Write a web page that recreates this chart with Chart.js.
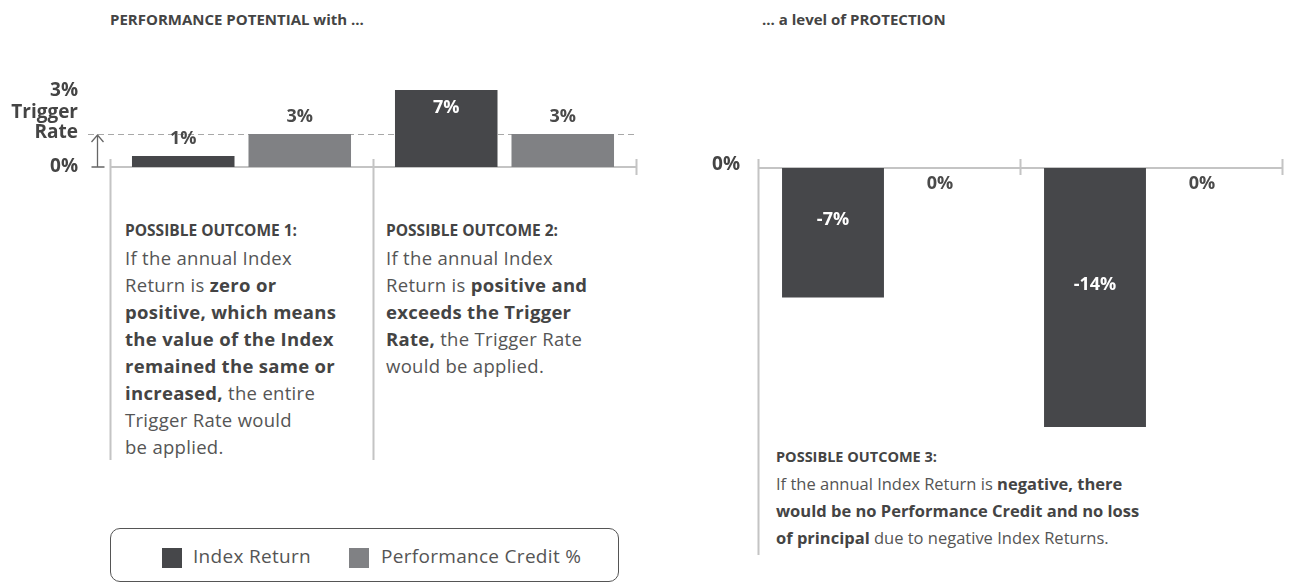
<!DOCTYPE html>
<html>
<head>
<meta charset="utf-8">
<script src="https://cdn.jsdelivr.net/npm/chart.js@4.4.0/dist/chart.umd.min.js"></script>
<style>
  body { margin: 0; background: #fff; font-family: "Open Sans", sans-serif; color: #4a4a4a; }
  #page { position: relative; width: 1289px; height: 582px; overflow: hidden; }
  canvas { position: absolute; left: 0; top: 0; }
  .title { position: absolute; top: 9px; font-size: 15px; font-weight: bold; color: #444; }
  .note { position: absolute; font-size: 16.5px; line-height: 27px; color: #555; white-space: nowrap; }
  .note b { color: #444; }
  .note .head { font-size: 14.5px; font-weight: bold; color: #444; letter-spacing: 0; }
  .note.big { font-size: 18.5px; letter-spacing: 0.3px; }
  .note.big .head { font-size: 15.5px; }
  .legend { position: absolute; left: 110px; top: 528px; width: 509px; height: 54px; box-sizing: border-box;
            border: 1px solid #555; border-radius: 10px; }
  .legend span { position: absolute; top: 14px; font-size: 19px; letter-spacing: 0.3px; color: #555; }
  .legend i { position: absolute; top: 19px; width: 20px; height: 20px; }
</style>
</head>
<body>
<div id="page">
  <div class="title" style="left:110px">PERFORMANCE POTENTIAL with ...</div>
  <div class="title" style="left:762px">... a level of PROTECTION</div>

  <div class="note big" style="left:125px; top:215px">
    <span class="head">POSSIBLE OUTCOME 1:</span><br>
    If the annual Index<br>
    Return is <b>zero or</b><br>
    <b>positive, which means</b><br>
    <b>the value of the Index</b><br>
    <b>remained the same or</b><br>
    <b>increased,</b> the entire<br>
    Trigger Rate would<br>
    be applied.
  </div>
  <div class="note big" style="left:386px; top:215px">
    <span class="head">POSSIBLE OUTCOME 2:</span><br>
    If the annual Index<br>
    Return is <b>positive and</b><br>
    <b>exceeds the Trigger</b><br>
    <b>Rate,</b> the Trigger Rate<br>
    would be applied.
  </div>
  <div class="note" style="left:776px; top:442px">
    <span class="head">POSSIBLE OUTCOME 3:</span><br>
    If the annual Index Return is <b>negative, there</b><br>
    <b>would be no Performance Credit and no loss</b><br>
    <b>of principal</b> due to negative Index Returns.
  </div>

  <div class="legend">
    <i style="left:51px; background:#46474a"></i><span style="left:82px">Index Return</span>
    <i style="left:238px; background:#808184"></i><span style="left:270px">Performance Credit %</span>
  </div>

  <canvas id="left" width="1289" height="582"></canvas>
  <canvas id="right" width="1289" height="582"></canvas>
</div>

<script>
// data
var categoriesLeft   = ['Outcome 1', 'Outcome 2'];
var indexReturnLeft  = [1, 7];
var perfCreditLeft   = [3, 3];
var categoriesRight  = ['Outcome 3a', 'Outcome 3b'];
var indexReturnRight = [-7, -14];
var perfCreditRight  = [0, 0];
var triggerRate      = 3;
var seriesNames      = ['Index Return', 'Performance Credit %'];

var DARK  = '#46474a';
var LIGHT = '#808184';
var AXIS  = '#c4c4c4';
var FONT  = '"Open Sans", sans-serif';

function pct(v) { return v + '%'; }

// axis line, ticks and separators for a panel
function drawAxis(ctx, chart, sepBottom, tickUp, tickDown, sepFrom) {
    var area = chart.chartArea;
    var y0 = chart.scales.y.getPixelForValue(0);
    var n = chart.data.labels.length;
    var w = (area.right - area.left) / n;
    ctx.save();
    ctx.strokeStyle = AXIS;
    ctx.lineWidth = 2;
    ctx.beginPath();
    ctx.moveTo(area.left, y0);
    ctx.lineTo(area.right, y0);
    for (var i = 0; i <= n; i++) {
        var x = Math.round(area.left + i * w) + 0.5;
        ctx.moveTo(x, y0 - tickUp);
        if (i < sepFrom) ctx.lineTo(x, sepBottom);
        else ctx.lineTo(x, y0 + tickDown);
    }
    ctx.stroke();
    ctx.restore();
}

var leftDecor = {
    id: 'leftDecor',
    beforeDatasetsDraw: function(chart) {
        var ctx = chart.ctx, area = chart.chartArea;
        var y0 = chart.scales.y.getPixelForValue(0);
        var yT = chart.scales.y.getPixelForValue(triggerRate);
        drawAxis(ctx, chart, 460, 8, 8, 2);

        // trigger rate dashed line
        ctx.save();
        ctx.strokeStyle = '#a8a8a8';
        ctx.lineWidth = 1;
        ctx.setLineDash([6, 4]);
        ctx.beginPath();
        ctx.moveTo(area.left - 22, yT + 0.5);
        ctx.lineTo(area.right, yT + 0.5);
        ctx.stroke();
        ctx.setLineDash([]);

        // arrow 0 -> trigger
        var ax = area.left - 13 + 0.5;
        ctx.strokeStyle = '#666';
        ctx.lineWidth = 1.3;
        ctx.beginPath();
        ctx.moveTo(ax, y0);
        ctx.lineTo(ax, yT + 1);
        ctx.moveTo(ax - 6, yT + 8);
        ctx.lineTo(ax, yT + 1);
        ctx.lineTo(ax + 6, yT + 8);
        ctx.moveTo(ax - 6, y0);
        ctx.lineTo(ax + 7, y0);
        ctx.stroke();

        // y labels
        ctx.fillStyle = '#444';
        ctx.font = 'bold 19px ' + FONT;
        ctx.textAlign = 'right';
        ctx.textBaseline = 'middle';
        ctx.fillText(pct(triggerRate), 78, yT - 43);
        ctx.fillText('Trigger', 78, yT - 21);
        ctx.fillText('Rate', 78, yT - 1);
        ctx.fillText(pct(0), 78, y0);
        ctx.restore();
    },
    afterDatasetsDraw: function(chart) {
        var ctx = chart.ctx;
        ctx.save();
        ctx.font = 'bold 18px ' + FONT;
        ctx.textAlign = 'center';
        ctx.textBaseline = 'middle';
        chart.data.datasets.forEach(function(ds, di) {
            chart.getDatasetMeta(di).data.forEach(function(bar, i) {
                var v = ds.data[i];
                if (di === 0 && v > triggerRate) {
                    ctx.fillStyle = '#fff';
                    ctx.fillText(pct(v), bar.x, bar.y + 18);
                } else {
                    ctx.fillStyle = '#4a4a4a';
                    ctx.fillText(pct(v), bar.x, bar.y - 17);
                }
            });
        });
        ctx.restore();
    }
};

var rightDecor = {
    id: 'rightDecor',
    beforeDatasetsDraw: function(chart) {
        var ctx = chart.ctx;
        var y0 = chart.scales.y.getPixelForValue(0);
        drawAxis(ctx, chart, 555, 9, 7, 1);
        ctx.save();
        ctx.fillStyle = '#444';
        ctx.font = 'bold 19px ' + FONT;
        ctx.textAlign = 'right';
        ctx.textBaseline = 'middle';
        ctx.fillText(pct(0), 740, y0 - 3);
        ctx.restore();
    },
    afterDatasetsDraw: function(chart) {
        var ctx = chart.ctx;
        var y0 = chart.scales.y.getPixelForValue(0);
        ctx.save();
        ctx.font = 'bold 18px ' + FONT;
        ctx.textAlign = 'center';
        ctx.textBaseline = 'middle';
        chart.data.datasets.forEach(function(ds, di) {
            chart.getDatasetMeta(di).data.forEach(function(bar, i) {
                var v = ds.data[i];
                if (v < 0) {
                    ctx.fillStyle = '#fff';
                    ctx.fillText(pct(v), bar.x, (bar.y + bar.base) / 2 - 13);
                } else {
                    ctx.fillStyle = '#4a4a4a';
                    ctx.fillText(pct(v), bar.x - 5, y0 + 16);
                }
            });
        });
        ctx.restore();
    }
};

function baseOptions(padding, ymin, ymax, catPct, barPct) {
    return {
        responsive: false,
        animation: false,
        layout: { padding: padding },
        plugins: { legend: { display: false }, tooltip: { enabled: false } },
        datasets: { bar: { categoryPercentage: catPct, barPercentage: barPct } },
        scales: {
            x: { display: false, offset: true },
            y: { display: false, min: ymin, max: ymax }
        }
    };
}

// left panel: performance potential
new Chart(document.getElementById('left').getContext('2d'), {
    type: 'bar',
    data: {
        labels: categoriesLeft,
        datasets: [
            { label: seriesNames[0], data: indexReturnLeft, backgroundColor: DARK },
            { label: seriesNames[1], data: perfCreditLeft, backgroundColor: LIGHT }
        ]
    },
    options: baseOptions({ left: 110, right: 653, top: 57, bottom: 415 }, 0, 10, 0.886, 0.88),
    plugins: [leftDecor]
});

// right panel: protection
new Chart(document.getElementById('right').getContext('2d'), {
    type: 'bar',
    data: {
        labels: categoriesRight,
        datasets: [
            { label: seriesNames[0], data: indexReturnRight, backgroundColor: DARK },
            { label: seriesNames[1], data: perfCreditRight, backgroundColor: LIGHT }
        ]
    },
    options: baseOptions({ left: 758, right: 7, top: 168, bottom: 136.5 }, -15, 0, 0.855, 0.91),
    plugins: [rightDecor]
});
</script>
</body>
</html>
